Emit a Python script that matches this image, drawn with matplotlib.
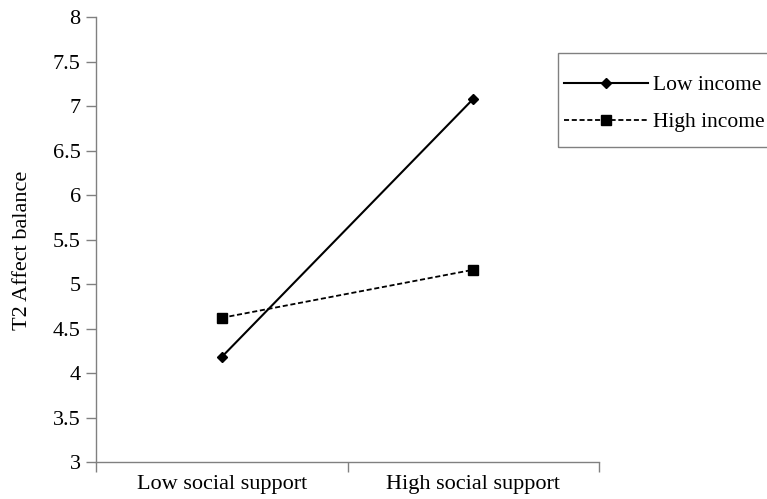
import numpy as np
import matplotlib
matplotlib.use('Agg')
import matplotlib.pyplot as plt
from matplotlib.patches import Rectangle

# data
categories = ['Low social support', 'High social support']
low_income = [4.18, 7.08]
high_income = [4.62, 5.16]
y_ticks = [3, 3.5, 4, 4.5, 5, 5.5, 6, 6.5, 7, 7.5, 8]

plt.rcParams['font.family'] = ['Liberation Serif', 'DejaVu Serif']
axis_grey = '#808080'
W, H = 767, 499

fig = plt.figure(figsize=(7.67, 4.99), dpi=100)
ax = fig.add_axes([96/W, 1-462/H, (599-96)/W, (462-17)/H])

x = np.arange(len(categories))
ax.plot(x, low_income, color='black', lw=1.5, marker='D', ms=5.5, label='Low income')
ax.plot(x, high_income, color='black', lw=1.3, ls=(0, (2.8, 1.5)), marker='s', ms=7, label='High income')

ax.set_xlim(-0.5, 1.5)
ax.set_ylim(3, 8)
ax.set_yticks(y_ticks)
ax.set_yticklabels([('%g' % v) for v in y_ticks], fontsize=16)

# category axis: ticks between categories, labels centred
ax.set_xticks([-0.5, 0.5, 1.5])
ax.set_xticklabels(['', '', ''])
ax.set_xticks(x, minor=True)
ax.set_xticklabels(categories, minor=True, fontsize=16)
ax.tick_params(axis='x', which='minor', length=0, pad=9)
ax.tick_params(axis='both', which='major', length=7, width=1, color=axis_grey)
ax.tick_params(axis='y', pad=4)

for s in ['top', 'right']:
    ax.spines[s].set_visible(False)
for s in ['left', 'bottom']:
    ax.spines[s].set_color(axis_grey)
    ax.spines[s].set_linewidth(1)

fig.text(23/W, 1-250/H, 'T2 Affect balance', rotation=90, fontsize=16,
         ha='center', va='center')

# legend box runs off the right edge like in the original
fig.patches.append(Rectangle((558/W, 1-147/H), 240/W, 94/H, transform=fig.transFigure,
                             fill=False, edgecolor=axis_grey, lw=1))
leg = fig.legend(loc='upper left', bbox_to_anchor=(564/W, 1-75/H),
                 fontsize=15.5, frameon=False, handlelength=3.9,
                 handletextpad=0.25, borderpad=0, labelspacing=0.8,
                 borderaxespad=0)

fig.savefig('out.png', dpi=100)
